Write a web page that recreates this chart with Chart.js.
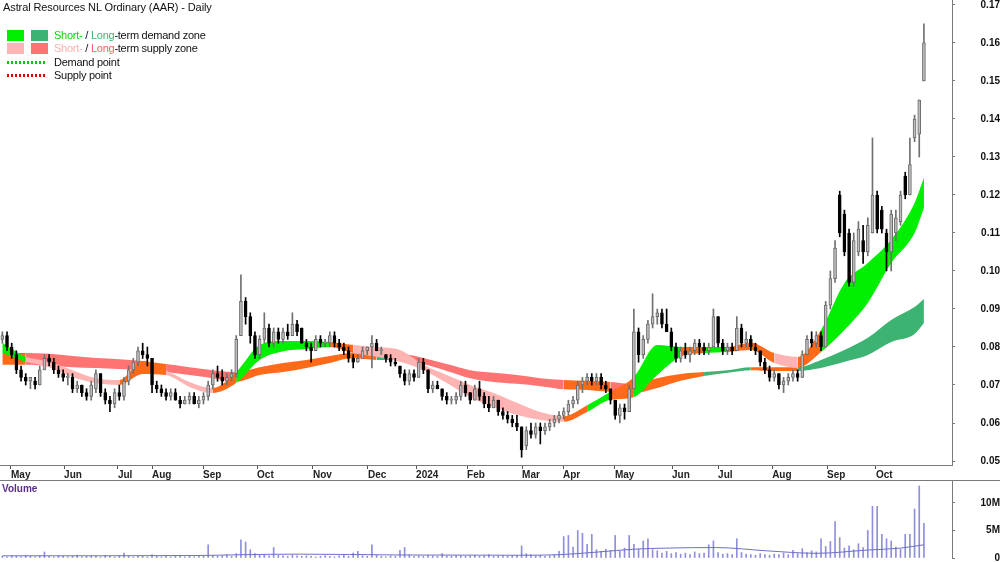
<!DOCTYPE html>
<html>
<head>
<meta charset="utf-8">
<script src="https://cdn.jsdelivr.net/npm/chart.js@4"></script>
<style>
  body { margin: 0; background: #fff; }
  #wrap { position: relative; width: 1000px; height: 562px; overflow: hidden; font-family: 'Liberation Sans', Arial, sans-serif; }
  canvas { position: absolute; left: 0; }
  .t { position: absolute; font-size: 11px; line-height: 14px; letter-spacing: -0.25px; color: #111; white-space: nowrap; }
  .sw { position: absolute; width: 17px; height: 11px; }
  .dot { position: absolute; width: 38px; height: 3px; }
  .hline { position: absolute; left: 0; width: 1000px; height: 1px; background: #7a7a7a; }
</style>
</head>
<body>
<div id="wrap">
  <canvas id="price" width="1000" height="480" style="top:0"></canvas>
  <div class="hline" style="top:480px"></div>
  <canvas id="vol" width="1000" height="82" style="top:480px"></canvas>

  <div class="t" style="left:3px;top:0;letter-spacing:-0.1px">Astral Resources NL Ordinary (AAR) - Daily</div>
  <div class="sw" style="left:7px;top:30px;background:#00ee00"></div>
  <div class="sw" style="left:31px;top:30px;background:#3cb371"></div>
  <div class="t" style="left:54px;top:28px"><span style="color:#00dd00">Short-</span> / <span style="color:#3cb371">Long</span>-term demand zone</div>
  <div class="sw" style="left:7px;top:43px;background:#ffb4b4"></div>
  <div class="sw" style="left:31px;top:43px;background:#ff7373"></div>
  <div class="t" style="left:54px;top:41px"><span style="color:#ffb0b0">Short-</span> / <span style="color:#ff6060">Long</span>-term supply zone</div>
  <div class="dot" style="left:7px;top:61px;background:repeating-linear-gradient(90deg,#00cc00 0 2px,transparent 2px 4px)"></div>
  <div class="t" style="left:54px;top:55px">Demand point</div>
  <div class="dot" style="left:7px;top:74px;background:repeating-linear-gradient(90deg,#e00000 0 2px,transparent 2px 4px)"></div>
  <div class="t" style="left:54px;top:68px">Supply point</div>
  <div class="t" style="left:2px;top:482px;font-size:10px;font-weight:bold;letter-spacing:0;color:#5a2d91">Volume</div>
</div>

<script>
// candles, one every second trading day (A$)
const opens = [
  .082,.083,.080,.078,.074,.072,.071,.071,.070,.074, .077,.076,.074,.073,.072,.072,.069,.070,.068,.067,
  .069,.073,.068,.066,.065,.068,.067,.071,.074,.076, .079,.078,.077,.070,.069,.068,.067,.068,.066,.065,
  .066,.067,.065,.066,.067,.070,.073,.072,.071,.072, .073,.083,.092,.088,.083,.078,.082,.085,.081,.084,
  .082,.084,.083,.086,.085,.081,.080,.079,.082,.081, .081,.083,.081,.080,.079,.077,.076,.077,.079,.080,
  .081,.079,.078,.077,.076,.075,.073,.071,.073,.072, .076,.074,.069,.070,.069,.067,.066,.066,.067,.070,
  .068,.066,.069,.067,.065,.064,.066,.063,.062,.061, .060,.059,.054,.058,.057,.059,.058,.059,.060,.061,
  .062,.063,.065,.066,.070,.071,.072,.071,.072,.070, .069,.066,.062,.064,.063,.069,.084,.078,.082,.086,
  .088,.089,.086,.084,.080,.077,.079,.078,.079,.081, .080,.079,.080,.088,.081,.079,.080,.079,.085,.081,
  .082,.080,.079,.076,.074,.072,.073,.070,.071,.072, .073,.072,.078,.082,.081,.083,.080,.091,.098,.120,
  .115,.110,.097,.105,.108,.105,.110,.120,.116,.110, .105,.110,.113,.125,.120,.135,.136,.150
];
const highs = [
  .084,.084,.081,.079,.075,.073,.072,.072,.075,.078, .078,.077,.075,.074,.073,.073,.071,.070,.069,.071,
  .074,.073,.069,.067,.069,.070,.072,.075,.077,.080, .081,.080,.077,.071,.070,.069,.069,.069,.067,.067,
  .068,.068,.067,.068,.071,.074,.075,.074,.073,.074, .083,.099,.093,.089,.084,.083,.089,.086,.085,.085,
  .085,.086,.089,.087,.085,.082,.081,.083,.083,.082, .084,.084,.082,.081,.080,.078,.078,.080,.080,.083,
  .082,.080,.078,.078,.077,.075,.074,.074,.074,.077, .077,.074,.071,.071,.069,.068,.067,.068,.071,.071,
  .068,.070,.071,.068,.067,.067,.066,.064,.063,.062, .062,.059,.059,.060,.060,.060,.060,.061,.062,.063,
  .064,.066,.067,.071,.072,.073,.073,.073,.073,.071, .069,.066,.065,.065,.070,.090,.085,.083,.087,.094,
  .090,.090,.090,.085,.081,.080,.081,.080,.082,.082, .081,.081,.090,.088,.082,.081,.081,.088,.086,.084,
  .083,.081,.079,.077,.075,.074,.073,.072,.073,.074, .074,.079,.083,.084,.084,.084,.092,.100,.108,.121,
  .116,.111,.110,.113,.112,.114,.135,.121,.117,.111, .116,.116,.121,.126,.135,.141,.145,.165
];
const lows = [
  .081,.079,.077,.073,.071,.070,.069,.069,.070,.074, .075,.073,.072,.071,.070,.068,.068,.067,.066,.066,
  .068,.067,.065,.063,.064,.066,.066,.070,.073,.075, .077,.075,.068,.068,.067,.066,.066,.066,.064,.065,
  .065,.065,.064,.065,.066,.069,.071,.070,.070,.071, .072,.083,.086,.081,.077,.077,.081,.080,.080,.081,
  .081,.082,.083,.083,.081,.079,.076,.079,.080,.080, .080,.080,.079,.078,.076,.0745,.076,.077,.078,.0745,
  .079,.078,.076,.075,.075,.072,.070,.070,.071,.072, .073,.068,.068,.069,.066,.065,.065,.065,.066,.067,
  .065,.066,.066,.064,.063,.064,.062,.061,.060,.059, .058,.051,.053,.056,.056,.0545,.057,.058,.059,.060,
  .061,.062,.064,.065,.068,.070,.070,.070,.069,.068, .065,.061,.060,.061,.063,.069,.076,.077,.081,.085,
  .086,.085,.084,.079,.076,.076,.077,.076,.078,.078, .078,.078,.080,.080,.078,.078,.078,.079,.080,.080,
  .079,.078,.075,.073,.071,.071,.069,.068,.070,.071, .071,.072,.078,.080,.080,.079,.080,.090,.097,.109,
  .104,.096,.096,.104,.102,.104,.110,.110,.110,.100, .100,.108,.112,.119,.120,.134,.130,.150
];
const closes = [
  .083,.080,.078,.074,.072,.071,.072,.070,.074,.077, .076,.074,.073,.072,.072,.069,.070,.068,.067,.070,
  .073,.068,.066,.065,.068,.067,.071,.074,.076,.079, .078,.077,.070,.069,.068,.067,.068,.066,.065,.066,
  .067,.065,.066,.067,.070,.073,.072,.071,.072,.073, .082,.092,.088,.083,.078,.082,.085,.081,.084,.082,
  .084,.083,.086,.084,.081,.080,.079,.082,.081,.081, .083,.081,.080,.079,.077,.076,.077,.079,.080,.081,
  .079,.079,.077,.076,.0755,.073,.071,.073,.072,.076, .074,.069,.070,.069,.067,.066,.066,.067,.070,.068,
  .066,.069,.067,.065,.064,.066,.063,.062,.061,.060, .059,.053,.058,.057,.059,.058,.059,.060,.061,.062,
  .063,.065,.066,.070,.071,.072,.071,.072,.070,.069, .066,.062,.064,.063,.069,.084,.078,.082,.086,.088,
  .089,.086,.084,.080,.077,.079,.078,.079,.081,.080, .079,.080,.088,.081,.079,.080,.079,.085,.081,.082,
  .080,.079,.076,.074,.072,.073,.070,.071,.072,.073, .072,.078,.082,.081,.083,.080,.091,.098,.106,.110,
  .105,.097,.108,.111,.105,.112,.120,.111,.111,.105, .115,.114,.120,.120,.128,.140,.145,.160
];
// volume, millions of shares
const volumes = [
  0.3,0.2,0.4,0.3,0.2,0.5,0.3,0.2,0.4,1.1, 0.3,0.2,0.4,0.3,0.2,0.3,0.5,0.2,0.3,0.4,
  0.3,0.2,0.5,0.3,0.2,0.4,0.9,0.3,0.2,0.4, 0.3,0.2,0.6,0.3,0.2,0.3,0.2,0.3,0.4,0.2,
  0.3,0.2,0.4,0.3,2.4,0.5,0.3,0.4,0.6,0.3, 0.8,3.3,2.9,1.5,0.8,0.5,0.6,0.4,1.9,0.5,
  0.4,0.3,0.5,0.4,0.3,0.4,0.3,0.2,0.3,0.4, 0.3,0.2,0.4,0.5,0.3,0.9,1.2,0.4,0.3,2.4,
  0.5,0.3,0.2,0.4,0.3,1.4,1.9,0.6,0.3,0.4, 0.3,0.5,0.4,0.3,0.8,0.4,0.3,0.5,0.4,0.3,
  0.4,0.5,0.3,0.4,0.6,0.3,0.4,0.5,0.3,0.4, 0.5,2.2,0.8,0.6,0.4,0.5,0.3,0.4,0.6,1.2,
  3.9,4.1,2.0,5.0,4.5,2.5,4.3,1.5,1.2,1.6, 1.4,4.1,1.2,1.8,4.1,2.5,1.6,3.1,3.5,1.5,
  1.3,0.9,1.2,0.8,1.0,0.7,0.9,0.6,1.1,0.8, 0.9,2.4,3.1,1.0,0.7,0.8,0.6,3.5,1.0,0.7,
  0.6,0.5,0.8,0.6,0.5,0.7,0.6,0.9,0.6,1.4, 0.8,1.7,1.0,1.3,1.1,3.5,2.1,3.0,6.6,3.7,
  1.8,2.2,1.5,2.6,1.9,5.0,9.4,9.4,4.3,3.5, 3.1,2.0,1.6,4.3,4.3,8.9,13.1,6.3
];
const volAvgSlots = [0, 84, 102, 127, 170, 221, 238, 255, 270, 284, 305, 327, 348, 370, 384, 394];
const volAvg      = [0.4, 0.45, 0.6, 0.7, 0.55, 0.5, 0.6, 1.1, 1.6, 1.8, 1.9, 1.3, 0.85, 1.45, 1.8, 2.4];

// demand / supply zones (G demand, P/R supply, O transition)
const zoneSlots = [0,10,20,30,40,50,60,70,80,90, 100,110,120,130,140,150,160,170,180,190,
  200,210,220,230,240,250,260,270,280,290, 300,310,320,330,340,350,360,370,380,390, 394];
const shortTop = [.0811,.0774,.0761,.0739,.0718,.0713,.0763,.0739,.0708,.0692, .0734,.0805,.0816,.0816,.0813,.0805,.0800,.0792,.0753,.0726,
  .0700,.0679,.0653,.0629,.0618,.0647,.0682,.0721,.0805,.0800, .0800,.0800,.0811,.0784,.0774,.0845,.0968,.1021,.1082,.1179, .1245];
const shortBot = [.0784,.0761,.0747,.0721,.0705,.0700,.0729,.0726,.0695,.0679, .0705,.0766,.0789,.0795,.0800,.0784,.0774,.0761,.0739,.0705,
  .0668,.0642,.0621,.0608,.0603,.0629,.0661,.0668,.0726,.0774, .0784,.0787,.0792,.0758,.0745,.0787,.0845,.0916,.1021,.1100, .1166];
const shortState = ['G','P','P','P','P','O','O','P','P','O', 'G','G','G','G','O','P','P','P','P','P',
  'P','P','P','P','O','G','O','G','G','O', 'G','O','O','P','O','G','G','G','G','G', 'G'];
const longTop = [.0784,.0784,.0782,.0776,.0771,.0768,.0763,.0755,.0747,.0739, .0734,.0747,.0758,.0766,.0776,.0784,.0776,.0782,.0771,.0755,
  .0739,.0732,.0726,.0718,.0713,.0711,.0708,.0703,.0718,.0729, .0734,.0739,.0747,.0747,.0747,.0766,.0792,.0824,.0871,.0905, .0926];
const longBot = [.0753,.0753,.0750,.0747,.0745,.0742,.0739,.0734,.0726,.0718, .0708,.0726,.0734,.0745,.0758,.0771,.0766,.0766,.0755,.0737,
  .0718,.0708,.0703,.0697,.0689,.0687,.0682,.0679,.0692,.0711, .0724,.0732,.0739,.0737,.0737,.0745,.0761,.0779,.0813,.0834, .0863];
const longState = ['O','R','R','R','R','R','O','R','R','R', 'O','O','O','O','O','O','G','R','R','R',
  'R','R','R','R','O','O','R','O','O','O', 'G','G','O','O','G','G','G','G','G','G', 'G'];

const monthSlots  = [3.7, 26.4, 49.4, 64, 85.8, 108.9, 132.8, 156.3, 176.9, 198.7, 222.2, 239.7, 261.9, 286.3, 306, 329.1, 352.6, 373.5];
const monthLabels = ['May','Jun','Jul','Aug','Sep','Oct','Nov','Dec','2024','Feb','Mar','Apr','May','Jun','Jul','Aug','Sep','Oct'];
const priceTicks  = [0.05,0.06,0.07,0.08,0.09,0.10,0.11,0.12,0.13,0.14,0.15,0.16,0.17];
const volTicks    = [0, 5, 10];
const volTickLabels = ['0', '5M', '10M'];

Chart.defaults.font.family = "'Liberation Sans', Arial, sans-serif";
Chart.defaults.animation = false;

const slots = opens.map((_, i) => i * 2);
const isUp = i => closes[i] >= opens[i];

const shortColors = { G: '#00ee00', P: '#ffb4b4', O: '#ff6a1a' };
const longColors  = { G: '#3cb371', R: '#ff7373', O: '#ff6a1a' };

function zoneSet(values, states, colors, fill, order) {
  return {
    type: 'line',
    data: zoneSlots.map((s, i) => ({ x: s, y: values[i] })),
    borderColor: 'rgba(0,0,0,0)',
    borderWidth: 0,
    pointRadius: 0,
    cubicInterpolationMode: 'monotone',
    fill: fill,
    backgroundColor: colors[states[0]],
    segment: { backgroundColor: ctx => colors[states[ctx.p0DataIndex]] },
    order: order
  };
}

const axisFont = { size: 10, weight: 'bold' };

function rightAxis(min, max, tickValues, labelFor) {
  return {
    position: 'right', min: min, max: max,
    afterBuildTicks: ax => { ax.ticks = tickValues.map(v => ({ value: v })); },
    afterFit: ax => { ax.width = 48; ax.paddingTop = 0; ax.paddingBottom = 0; },
    grid: { drawOnChartArea: false, tickLength: 3, color: '#7a7a7a' },
    border: { color: '#7a7a7a' },
    ticks: { crossAlign: 'far', padding: 23, color: '#111', font: axisFont, callback: labelFor }
  };
}

new Chart(document.getElementById('price'), {
  type: 'bar',
  data: {
    datasets: [
      {
        data: slots.map((s, i) => ({ x: s, y: [opens[i], closes[i]] })),
        barThickness: 3, grouped: false, minBarLength: 1,
        backgroundColor: slots.map((s, i) => isUp(i) ? '#bcbcbc' : '#000'),
        borderColor: slots.map((s, i) => isUp(i) ? '#6a6a6a' : '#000'),
        borderWidth: 1, borderSkipped: false, order: 0
      },
      {
        data: slots.map((s, i) => ({ x: s, y: [lows[i], highs[i]] })),
        barThickness: 1, grouped: false,
        backgroundColor: slots.map((s, i) => isUp(i) ? '#707070' : '#000'),
        order: 1
      },
      zoneSet(shortTop, shortState, shortColors, '+1', 5),
      zoneSet(shortBot, shortState, shortColors, false, 6),
      zoneSet(longTop, longState, longColors, '+1', 7),
      zoneSet(longBot, longState, longColors, false, 8)
    ]
  },
  options: {
    responsive: false,
    layout: { padding: 0 },
    plugins: { legend: { display: false }, tooltip: { enabled: false } },
    scales: {
      x: {
        type: 'linear', min: -1, max: 406, offset: false,
        afterBuildTicks: ax => { ax.ticks = monthSlots.map(v => ({ value: v })); },
        afterFit: ax => { ax.height = 15; ax.paddingLeft = 0; ax.paddingRight = 0; },
        grid: { offset: false, drawOnChartArea: false, tickLength: 4, color: '#555' },
        border: { color: '#7a7a7a' },
        ticks: { autoSkip: false, maxRotation: 0, align: 'start', padding: 0, color: '#222', font: axisFont,
                 callback: (v, i) => monthLabels[i] }
      },
      y: rightAxis(0.04895, 0.1713, priceTicks, v => v.toFixed(2))
    }
  }
});

new Chart(document.getElementById('vol'), {
  type: 'bar',
  data: {
    datasets: [
      {
        type: 'line',
        data: volAvgSlots.map((s, i) => ({ x: s, y: volAvg[i] })),
        borderColor: '#6e6ec8', borderWidth: 1, pointRadius: 0,
        cubicInterpolationMode: 'monotone', order: 0
      },
      {
        data: slots.map((s, i) => ({ x: s, y: volumes[i] })),
        barThickness: 1, grouped: false,
        backgroundColor: '#8f8fdc', order: 1
      }
    ]
  },
  options: {
    responsive: false,
    layout: { padding: { bottom: 4 } },
    plugins: { legend: { display: false }, tooltip: { enabled: false } },
    scales: {
      x: { type: 'linear', min: -1, max: 406, offset: false, display: false, grid: { offset: false } },
      y: rightAxis(0, 14.18, volTicks, (v, i) => volTickLabels[i])
    }
  }
});
</script>
</body>
</html>
